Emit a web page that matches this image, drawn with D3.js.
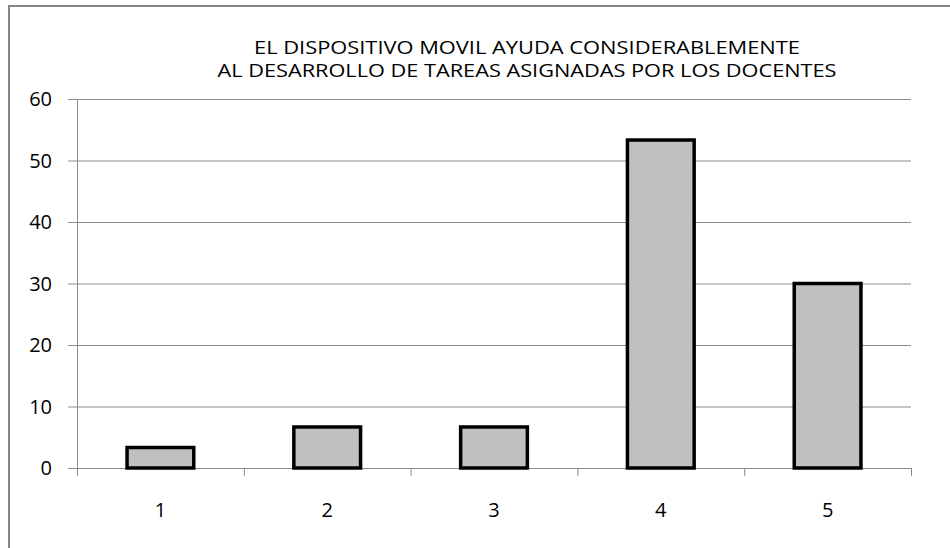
<!DOCTYPE html>
<html><head><meta charset="utf-8">
<script src="https://cdn.jsdelivr.net/npm/d3@7"></script>
<style>body{margin:0;background:#fff}svg{display:block}text{font-family:"Open Sans",sans-serif;fill:#000}</style>
</head><body><svg id="c" width="950" height="548"></svg>
<script>
const categories = ["1","2","3","4","5"];
const values = [3.33, 6.67, 6.67, 53.33, 30];
const yTicks = [0,10,20,30,40,50,60];
const titleLines = ["EL DISPOSITIVO MOVIL AYUDA CONSIDERABLEMENTE","AL DESARROLLO DE TAREAS ASIGNADAS POR LOS DOCENTES"];

const svg = d3.select("#c");
svg.append("rect").attr("x",9).attr("y",6).attr("width",960).attr("height",560)
  .attr("fill","#fff").attr("stroke","#868686").attr("stroke-width",2);

const L=77, R=911, T=99, B=468;
const x = d3.scaleBand().domain(categories).range([L,R]).paddingInner(0.6).paddingOuter(0.3);
const y = d3.scaleLinear().domain([0,60]).range([B,T]);

// gridlines
svg.append("g").selectAll("line").data(yTicks).join("line")
  .attr("x1",68).attr("x2",R).attr("y1",d=>y(d)+0.5).attr("y2",d=>y(d)+0.5)
  .attr("stroke","#8c8c8c").attr("stroke-width",1);
// y axis line
svg.append("line").attr("x1",L+0.5).attr("x2",L+0.5).attr("y1",T).attr("y2",B+8)
  .attr("stroke","#8c8c8c");
// x category boundary ticks
const bounds = categories.map((c,i)=>L + i*(R-L)/categories.length).concat([R]);
svg.append("g").selectAll("line").data(bounds).join("line")
  .attr("x1",d=>d+0.5).attr("x2",d=>d+0.5).attr("y1",B).attr("y2",B+8)
  .attr("stroke","#8c8c8c");

// y labels
svg.append("g").selectAll("text").data(yTicks).join("text")
  .attr("x",52).attr("y",d=>y(d)).attr("dy","0.36em").attr("text-anchor","end")
  .attr("font-size",20).text(d=>d);

// x labels
svg.append("g").selectAll("text").data(categories).join("text")
  .attr("x",d=>x(d)+x.bandwidth()/2).attr("y",517).attr("text-anchor","middle")
  .attr("font-size",20).text(d=>d);

// bars
svg.append("g").selectAll("rect").data(values).join("rect")
  .attr("x",(d,i)=>x(categories[i])).attr("width",x.bandwidth())
  .attr("y",d=>y(d)).attr("height",d=>B-y(d))
  .attr("fill","#c0c0c0").attr("stroke","#000").attr("stroke-width",3.5);

// title
const tl = [546, 619];
svg.append("g").selectAll("text").data(titleLines).join("text")
  .attr("x",527).attr("y",(d,i)=>54+i*23).attr("text-anchor","middle")
  .attr("font-size",18).attr("textLength",(d,i)=>tl[i]).attr("lengthAdjust","spacingAndGlyphs")
  .text(d=>d);
</script></body></html>
